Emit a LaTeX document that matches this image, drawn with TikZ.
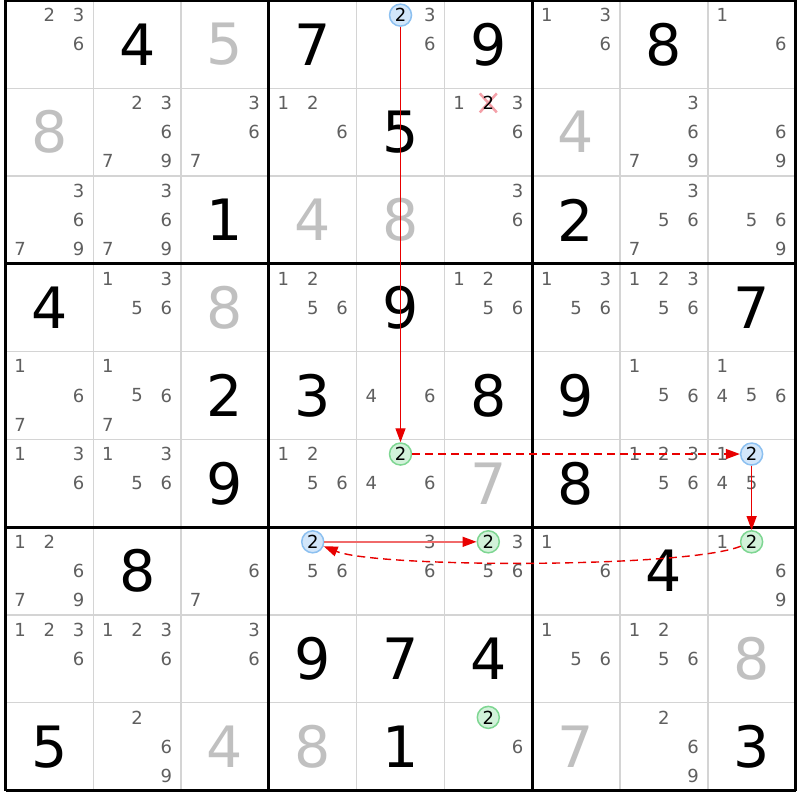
\documentclass[tikz,border=0pt]{standalone}
\usepackage{fontspec}
\setmainfont{DejaVu Sans}
\usetikzlibrary{arrows.meta}
\definecolor{candc}{HTML}{5F5F5F}
\definecolor{solvedc}{HTML}{C0C0C0}
\definecolor{thinc}{HTML}{D4D4D4}
\definecolor{bluefill}{HTML}{D2E6FA}
\definecolor{blueline}{HTML}{8CC0F0}
\definecolor{greenfill}{HTML}{D2F2DA}
\definecolor{greenline}{HTML}{7ED692}
\definecolor{linkred}{HTML}{E80000}
\definecolor{lightred}{HTML}{F06A6A}
\definecolor{crossc}{HTML}{F4A0A8}
\newcommand\CSZ{87.78}
\newcommand\gv[3]{\node[given] (g#1#2) at ({5.5+(#2+0.5)*\CSZ},{0.5+(#1+0.5)*\CSZ}) {#3};}
\newcommand\sv[3]{\node[solved] (s#1#2) at ({5.5+(#2+0.5)*\CSZ},{0.5+(#1+0.5)*\CSZ}) {#3};}
\newcommand\kc[3]{\foreach \dd in {#3}{\node[cand] (k#1#2\dd) at ({5.5+#2*\CSZ+(2*mod(\dd-1,3)+1)*\CSZ/6},{0.5+#1*\CSZ+(2*int((\dd-1)/3)+1)*\CSZ/6}) {\dd};}}
\newcommand\kco[4]{\coordinate (#1) at ({5.5+#3*\CSZ+(2*mod(#4-1,3)+1)*\CSZ/6},{0.5+#2*\CSZ+(2*int((#4-1)/3)+1)*\CSZ/6});}
\begin{document}
\begin{tikzpicture}[x=1pt,y=-1pt,
  given/.style={inner sep=0pt,font=\fontsize{57}{57}\selectfont,text=black},
  solved/.style={given,text=solvedc},
  cand/.style={inner sep=0pt,font=\fontsize{18}{18}\selectfont,text=candc},
  bluecirc/.style={circle,draw=blueline,fill=bluefill,line width=1.5pt,minimum size=22pt,inner sep=0pt,font=\fontsize{18}{18}\selectfont,text=black},
  greencirc/.style={bluecirc,draw=greenline,fill=greenfill},
  strongln/.style={draw=linkred,fill=linkred,line width=1.4pt,-{Triangle[length=14pt,width=10pt,color=linkred]}},
  weakln/.style={draw=linkred,line width=1.4pt,dash pattern=on 8pt off 5pt,-{Triangle[length=14pt,width=10pt,fill=linkred]}},
  thinln/.style={draw=thinc,line width=1.5pt},
  thickln/.style={draw=black,line width=3pt}
]
\useasboundingbox (0,0) rectangle (800,800);
\fill[white] (0,0) rectangle (800,800);
% grid
\foreach \i in {1,2,4,5,7,8}{
  \draw[thinln] ({5.5+\i*\CSZ},0.5) -- ({5.5+\i*\CSZ},790.5);
  \draw[thinln] (5.5,{0.5+\i*\CSZ}) -- (795.5,{0.5+\i*\CSZ});
}
\foreach \i in {0,3,6,9}{
  \draw[thickln] ({5.5+\i*\CSZ},0.5) -- ({5.5+\i*\CSZ},790.5);
  \draw[thickln] (5.5,{0.5+\i*\CSZ}) -- (795.5,{0.5+\i*\CSZ});
}
% givens and solved
\gv{0}{1}{4}\gv{0}{3}{7}\gv{0}{5}{9}\gv{0}{7}{8}\sv{0}{2}{5}
\gv{1}{4}{5}\sv{1}{0}{8}\sv{1}{6}{4}
\gv{2}{2}{1}\gv{2}{6}{2}\sv{2}{3}{4}\sv{2}{4}{8}
\gv{3}{0}{4}\gv{3}{4}{9}\gv{3}{8}{7}\sv{3}{2}{8}
\gv{4}{2}{2}\gv{4}{3}{3}\gv{4}{5}{8}\gv{4}{6}{9}
\gv{5}{2}{9}\gv{5}{6}{8}\sv{5}{5}{7}
\gv{6}{1}{8}\gv{6}{7}{4}
\gv{7}{3}{9}\gv{7}{4}{7}\gv{7}{5}{4}\sv{7}{8}{8}
\gv{8}{0}{5}\gv{8}{4}{1}\gv{8}{8}{3}\sv{8}{2}{4}\sv{8}{3}{8}\sv{8}{6}{7}
% candidates
\kc{0}{0}{2,3,6}\kc{0}{4}{3,6}\kc{0}{6}{1,3,6}\kc{0}{8}{1,6}
\kc{1}{1}{2,3,6,7,9}\kc{1}{2}{3,6,7}\kc{1}{3}{1,2,6}\kc{1}{5}{1,3,6}\kc{1}{7}{3,6,7,9}\kc{1}{8}{6,9}
\kc{2}{0}{3,6,7,9}\kc{2}{1}{3,6,7,9}\kc{2}{5}{3,6}\kc{2}{7}{3,5,6,7}\kc{2}{8}{5,6,9}
\kc{3}{1}{1,3,5,6}\kc{3}{3}{1,2,5,6}\kc{3}{5}{1,2,5,6}\kc{3}{6}{1,3,5,6}\kc{3}{7}{1,2,3,5,6}
\kc{4}{0}{1,6,7}\kc{4}{1}{1,5,6,7}\kc{4}{4}{4,6}\kc{4}{7}{1,5,6}\kc{4}{8}{1,4,5,6}
\kc{5}{0}{1,3,6}\kc{5}{1}{1,3,5,6}\kc{5}{3}{1,2,5,6}\kc{5}{4}{4,6}\kc{5}{7}{1,2,3,5,6}\kc{5}{8}{1,4,5}
\kc{6}{0}{1,2,6,7,9}\kc{6}{2}{6,7}\kc{6}{3}{5,6}\kc{6}{4}{3,6}\kc{6}{5}{3,5,6}\kc{6}{6}{1,6}\kc{6}{8}{1,6,9}
\kc{7}{0}{1,2,3,6}\kc{7}{1}{1,2,3,6}\kc{7}{2}{3,6}\kc{7}{6}{1,5,6}\kc{7}{7}{1,2,5,6}
\kc{8}{1}{2,6,9}\kc{8}{5}{6}\kc{8}{7}{2,6,9}
% positions of highlighted candidates
\kco{pX}{1}{5}{2}
\kco{pA}{0}{4}{2}
\kco{pB}{5}{4}{2}
\kco{pC}{5}{8}{2}
\kco{pD}{6}{8}{2}
\kco{pE}{6}{3}{2}
\kco{pF}{6}{5}{2}
\kco{pG}{8}{5}{2}
% eliminated candidate
\draw[crossc,line width=2.5pt] ([shift={(-8.5,-9.5)}]pX) -- ([shift={(8.5,9.5)}]pX)
  ([shift={(8.5,-9.5)}]pX) -- ([shift={(-8.5,9.5)}]pX);
\node[cand,text=black] (x152) at (pX) {2};
% highlighted candidates
\node[bluecirc] (A) at (pA) {2};
\node[greencirc] (B) at (pB) {2};
\node[bluecirc] (C) at (pC) {2};
\node[greencirc] (D) at (pD) {2};
\node[bluecirc] (E) at (pE) {2};
\node[greencirc] (F) at (pF) {2};
\node[greencirc] (G) at (pG) {2};
% chain
\draw[strongln] (A) -- (B);
\draw[weakln] (B) -- (C);
\draw[strongln] (C) -- (D);
\draw[weakln] (D) to[bend left=22,looseness=0.36] (E);
\draw[strongln,draw=lightred] (E) -- (F);
\end{tikzpicture}
\end{document}
